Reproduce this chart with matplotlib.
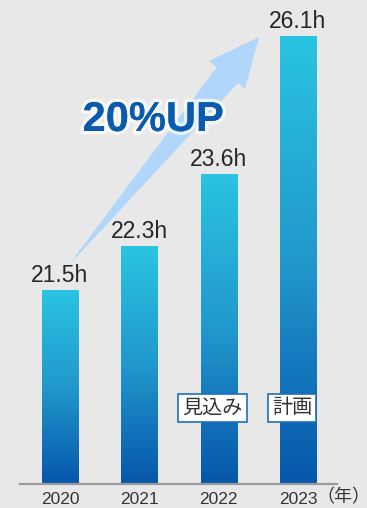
import numpy as np
import matplotlib
matplotlib.use("Agg")
import matplotlib.pyplot as plt
from matplotlib.colors import LinearSegmentedColormap
from matplotlib.patches import Polygon
import matplotlib.patheffects as pe

plt.rcParams['font.family'] = ['Liberation Sans', 'Noto Sans CJK JP', 'DejaVu Sans']

years = ["2020", "2021", "2022", "2023"]
hours = [21.5, 22.3, 23.6, 26.1]
value_labels = ["21.5h", "22.3h", "23.6h", "26.1h"]
status_labels = {2: "見込み", 3: "計画"}
unit_label = "（年）"
headline = "20%UP"

W, H, DPI = 367, 508, 100
BASE = 18.0
BG = "#e8e8e8"

fig = plt.figure(figsize=(W / DPI, H / DPI), dpi=DPI, facecolor=BG)
ax = fig.add_axes([0, 0, 1, 1])
ax.set_facecolor(BG)
ax.set_xlim(-0.756, 3.870)
ax.set_ylim(17.566, 26.751)
ax.axis("off")

grad = LinearSegmentedColormap.from_list(
    "bar", [(0.0, "#0656ab"), (0.5, "#2198cc"), (1.0, "#2ac4e1")])
gimg = np.linspace(0, 1, 256).reshape(-1, 1)

x = np.arange(len(years))
heights = np.array(hours) - BASE
bars = ax.bar(x, heights, bottom=BASE, width=0.454, facecolor="none",
              edgecolor="none", zorder=3)
for b in bars:
    x0, y0 = b.get_x(), b.get_y()
    im = ax.imshow(gimg, cmap=grad, origin="lower", aspect="auto",
                   extent=(x0, x0 + b.get_width(), y0, y0 + b.get_height()),
                   zorder=3, interpolation="bilinear")
    im.set_clip_path(b)

# restore limits after imshow
ax.set_xlim(-0.756, 3.870)
ax.set_ylim(17.566, 26.751)

# baseline
ax.axhline(BASE, xmin=20 / W, xmax=337 / W, color="#9a9a9a", lw=1.6, zorder=4)

# value labels
for xi, v, lab in zip(x, hours, value_labels):
    ax.annotate(lab, (xi, v), xytext=(0, 8), textcoords="offset pixels",
                ha="center", va="baseline", fontsize=16.5, color="#262626",
                zorder=6)

# year labels
for xi, yr in zip(x, years):
    ax.annotate(yr, (xi, BASE), xytext=(0, -16), textcoords="offset pixels",
                ha="center", va="center", fontsize=12.5, color="#333333")
ax.annotate(unit_label, (3, BASE), xytext=(45, -14), textcoords="offset pixels",
            ha="center", va="center", fontsize=13, color="#333333")

# status boxes
for i, lab in status_labels.items():
    ax.annotate(lab, (x[i], BASE), xytext=(-6, 76), textcoords="offset pixels",
                ha="center", va="center", fontsize=14.5, color="#333333",
                zorder=7,
                bbox=dict(boxstyle="square,pad=0.2", facecolor="white",
                          edgecolor="#1f6fbf", linewidth=1.2))

# growth arrow (figure pixel coordinates from top-left)
arrow_px = [(68, 266), (238, 83), (245, 89), (259, 37),
            (209, 61), (217, 67)]
arrow_pts = [(px / W, 1 - py / H) for px, py in arrow_px]
ax.add_patch(Polygon(arrow_pts, closed=True, transform=fig.transFigure,
                     facecolor="#b0d6fb", edgecolor="none", zorder=2))

# headline
fig.text(153 / W, 1 - 120 / H, headline, ha="center", va="center",
         fontsize=30, fontweight="bold", color="#0a5aad", zorder=8,
         path_effects=[pe.withStroke(linewidth=5, foreground="white", alpha=0.7),
                       pe.Normal()])

fig.savefig("out.png", dpi=DPI, facecolor=BG)
